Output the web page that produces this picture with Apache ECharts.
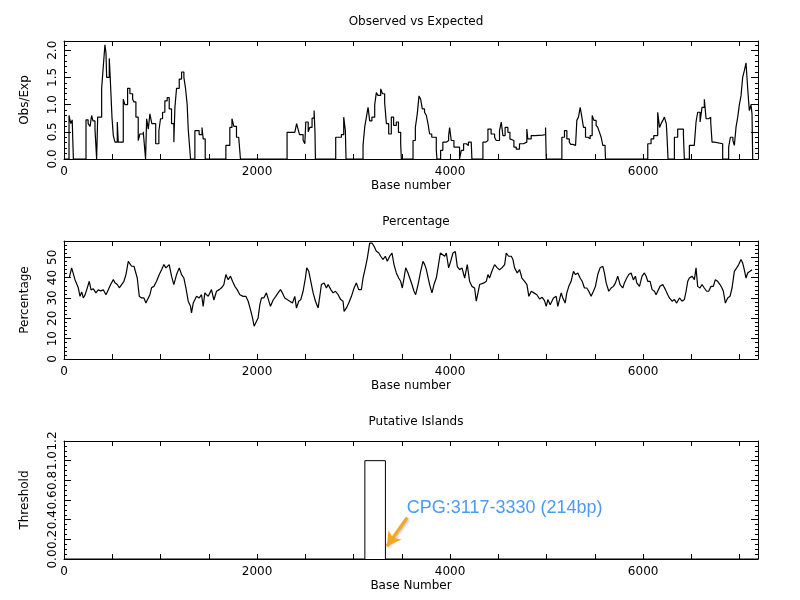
<!DOCTYPE html>
<html>
<head>
<meta charset="utf-8">
<script src="https://cdn.jsdelivr.net/npm/echarts@6/dist/echarts.min.js"></script>
<style>
  html, body { margin: 0; padding: 0; background: #fff; }
  #chart { width: 800px; height: 600px; }
</style>
</head>
<body>
<div id="chart"></div>
<script>
// x extent of the sequence
var seqMax = 7190;

// Observed vs Expected (step line, value held until next base)
var oeBase = [0,52,70,85,97,228,250,270,286,300,321,338,349,390,407,424,435,442,469,480,497,511,528,552,562,614,631,659,683,711,724,745,769,786,821,838,845,856,873,890,910,950,983,1000,1021,1045,1069,1090,1114,1138,1149,1166,1194,1218,1242,1259,1276,1287,1304,1311,1356,1400,1430,1442,1463,1677,1718,1740,1760,1787,1810,1828,2311,2391,2410,2425,2440,2477,2495,2505,2530,2546,2570,2591,2600,2605,2815,2874,2898,2915,2922,3098,3115,3133,3150,3167,3190,3219,3236,3253,3281,3300,3322,3340,3364,3391,3415,3443,3465,3488,3495,3616,3640,3660,3678,3695,3712,3735,3754,3771,3788,3810,3857,3864,3902,3925,3961,3985,3995,4012,4040,4098,4116,4140,4168,4190,4219,4226,4340,4370,4392,4425,4461,4478,4512,4530,4547,4570,4599,4620,4640,4661,4685,4719,4760,4780,4795,4805,4840,4875,4960,4989,4996,5158,5185,5210,5235,5248,5271,5300,5313,5330,5348,5365,5382,5403,5430,5451,5472,5490,5513,5530,5548,5565,5582,5606,5610,6048,6082,6110,6151,6170,6186,6204,6220,6240,6248,6258,6324,6358,6393,6417,6427,6479,6530,6548,6565,6590,6610,6634,6652,6679,6700,6714,6738,6824,6886,6904,6930,6945,6962,6980,6997,7014,7031,7048,7066,7083,7100,7117,7128,7135];
var oeValue = [0,0.8,0.65,0.72,0,0.72,0.65,0.6,0.8,0.7,0.55,0,0.77,1.3,1.7,2.1,1.95,1.5,1.85,1.45,0.77,0.43,0.31,0.68,0.31,1.1,1.0,1.3,1.2,1.1,1.05,0.77,0.34,0.46,0.5,0.52,0,0.74,0.55,0.83,0.65,0.28,0.52,0.74,0.86,1.07,1.13,0.92,0.65,0.31,0.95,1.3,1.47,1.6,1.5,1.3,1.0,0.55,0.52,0,0.52,0.45,0.58,0.37,0,0.25,0.58,0.74,0.6,0.4,0.42,0,0.49,0.46,0.65,0.55,0.45,0.35,0.28,0.68,0.5,0.58,0.75,0.89,0.5,0,0.4,0.45,0.77,0.52,0,0.25,0.58,0.77,0.95,0.7,0.77,1.0,1.22,1.17,1.29,1.2,1.04,0.65,0.46,0.77,0.62,0.68,0.49,0.28,0,0.34,0.58,0.83,1.16,1.1,0.92,0.86,0.8,0.65,0.46,0.4,0.16,0,0.16,0.31,0.34,0.43,0.58,0.34,0.22,0,0.16,0.28,0.25,0.31,0.34,0,0.31,0.34,0.55,0.46,0.4,0.34,0.52,0.68,0.43,0.58,0.49,0.37,0.34,0.22,0.18,0.28,0.25,0.31,0.55,0.37,0.43,0.44,0.45,0.58,0,0.4,0.52,0.37,0.31,0.27,0.25,0.28,0.71,0.77,0.95,0.77,0.58,0.4,0.37,0.43,0.8,0.71,0.62,0.58,0.49,0.4,0.25,0.19,0,0.28,0.37,0.43,0.86,0.58,0.65,0.71,0.77,0.65,0.4,0,0.4,0.55,0.55,0.46,0,0.25,0.28,0.68,0.86,0.68,0.95,1.1,0.74,0.77,0.68,0.31,0.28,0,0.22,0.4,0.34,0.25,0.58,0.77,1.0,1.16,1.5,1.62,1.77,1.3,0.89,1.0,0.83,0];

// Percentage
var pctBase = [55,62,79,95,114,130,148,166,183,200,218,235,262,280,304,331,355,380,407,435,459,483,511,528,552,573,597,621,642,666,683,700,725,745,759,780,804,828,849,863,890,907,931,959,987,1011,1035,1056,1069,1090,1114,1138,1166,1194,1207,1218,1242,1263,1287,1311,1321,1339,1356,1373,1401,1425,1442,1459,1494,1528,1553,1580,1608,1632,1656,1677,1701,1725,1746,1770,1794,1822,1856,1884,1908,1932,1953,1970,1987,2011,2029,2046,2070,2097,2115,2139,2167,2194,2218,2243,2263,2287,2312,2339,2367,2391,2408,2432,2453,2477,2501,2515,2536,2557,2581,2605,2633,2650,2667,2695,2719,2736,2764,2788,2812,2840,2867,2891,2902,2926,2950,2978,3005,3029,3053,3081,3098,3122,3143,3167,3191,3212,3236,3260,3281,3305,3329,3350,3374,3398,3419,3443,3467,3488,3505,3523,3540,3564,3581,3605,3626,3643,3668,3695,3719,3737,3754,3771,3788,3812,3833,3857,3875,3899,3919,3944,3961,3985,4006,4030,4054,4075,4099,4123,4151,4178,4202,4226,4254,4271,4289,4306,4323,4351,4375,4392,4409,4433,4461,4489,4513,4537,4565,4582,4606,4634,4651,4668,4696,4720,4744,4772,4796,4816,4841,4868,4899,4927,4954,4978,4996,5013,5037,5054,5071,5099,5116,5134,5151,5168,5192,5209,5230,5254,5278,5299,5323,5347,5368,5392,5416,5437,5461,5485,5506,5530,5554,5582,5599,5617,5644,5668,5692,5713,5737,5761,5789,5806,5830,5851,5875,5899,5920,5934,5962,5989,6013,6031,6048,6072,6093,6117,6134,6151,6175,6203,6231,6255,6272,6300,6324,6348,6376,6403,6427,6445,6462,6479,6507,6531,6548,6565,6589,6610,6634,6658,6679,6703,6727,6748,6772,6796,6817,6831,6852,6876,6900,6921,6945,6969,6990,7014,7031,7048,7066,7083,7107,7128];
var pctValue = [40,40.7,44.8,44.5,39,39,35,30.8,33,30,31.5,34,38.2,34,34.5,32.5,34,33.5,34,31.6,34,36.6,39,37.5,36.6,35,36.6,38.2,41.5,48,48.9,45.6,45.6,44.8,39.8,30.8,30,30,27.5,29,31.6,35,35.7,38.2,41.5,43.9,46.4,44.8,45.6,46.4,40.7,36.6,41.5,44.8,45.6,41.5,39.8,35,28.4,25.9,22.6,27.5,26.7,30.8,30,31.6,25.9,32.5,30.8,34.1,29,33.3,34.1,35,36.6,41.5,39,40.7,38.2,35.7,34.1,31.6,30.8,30.8,28.4,24.3,20.2,16.1,17.8,20.2,26.7,30,30,32.5,31.6,25.9,29,30.8,32.5,34.1,32.5,30,29.2,28.4,27.5,30.8,25.1,28.4,29.2,33.3,39.8,44.8,43.1,38.2,32.5,28.4,25.1,30.8,36.6,37.4,34.9,36.6,34.1,32.5,33.3,31.6,29.2,28.4,23.4,25.1,27.5,30.8,34.9,37.4,34.1,34.1,39.8,44.8,49.7,57,57,55.4,53,52.2,50.5,48.9,50.5,48,50.5,52.1,46.4,42.3,39.8,38.2,34.9,39.8,44.8,42.3,41.5,36.6,33.3,31.6,36.6,43.1,48,46.4,43.9,43.1,36.6,32.5,36.6,39.8,44.8,52.1,52.1,50.5,52.1,44.8,48,52.1,52.8,45.4,43.9,44.8,39.8,46.4,38.2,35.7,34.9,28.4,32.5,36.6,36.6,37.4,38.2,41.5,39.8,43.1,46.4,44.8,43.9,44.8,46.4,52.1,50.5,50.5,48.9,44.8,42.3,43.9,39.8,38.2,36.6,30.8,33.3,32.5,31.6,29.5,30.3,28.7,25.9,29.2,26.7,25.9,30,30.8,25.9,25.1,32.5,30,27.5,32.5,35.7,38.2,43.1,41.5,42.3,39.8,38.2,34.9,34.9,33.3,30.8,33.3,35.7,41.5,44.8,45.6,42.3,37.4,33.3,34.9,35.7,37.4,40.7,36.6,34.9,37.4,39.8,41.5,42.3,38.9,40.7,37.4,35.7,40.7,42.3,40.7,38.2,38.2,34.1,33.3,31.6,33.3,35.7,36.6,34.1,31.6,30,28.4,29.2,27.5,30,28.4,29.2,33.3,38.2,39.8,40.7,39,44.8,35.7,34.9,36.6,34.9,33.3,33.3,35.7,35.7,39,38.2,36.6,34.9,33.3,27.5,30,30.8,34.9,43.1,44.8,46.4,48.9,47.2,43.9,39.8,42.3,43.1,43.9];

// Putative islands
var islandStart = [3117];
var islandEnd = [3330];
var islandThreshold = [1.0];

// axis ranges / ticks
var oeTicks = [0, 2.17, 0.5];
var pctTicks = [0, 58, 10];
var thrTicks = [0, 1.2, 0.2];

var titles = ['Observed vs Expected', 'Percentage', 'Putative Islands'];
var yNames = ['Obs/Exp', 'Percentage', 'Threshold'];
var xNames = ['Base number', 'Base number', 'Base Number'];

function pairs(xs, ys) {
  return xs.map(function (x, i) { return [x, ys[i]]; });
}

var islandData = [[0, 0]];
islandStart.forEach(function (s, i) {
  islandData.push([s, 0], [s, islandThreshold[i]], [islandEnd[i], islandThreshold[i]], [islandEnd[i], 0]);
});
islandData.push([seqMax, 0]);

var font = 'DejaVu Sans';
var tops = [41, 241, 441];
var ticks = [oeTicks, pctTicks, thrTicks];
var minorSplit = [5, 5, 4];
var labelFmt = [
  function (v) { return v.toFixed(1); },
  function (v) { return String(Math.round(v)); },
  function (v) { return v.toFixed(1); }
];

var grid = [], xAxis = [], yAxis = [], title = [];
for (var g = 0; g < 3; g++) {
  grid.push({ left: 64, right: 42, top: tops[g], height: 118 });
  title.push({
    text: titles[g], left: 411, top: tops[g] - 30, textAlign: 'center',
    textStyle: { fontFamily: font, fontSize: 12, fontWeight: 'normal', color: '#000' }
  });
  xAxis.push({
    gridIndex: g, type: 'value', min: 0, max: seqMax, interval: 500,
    name: xNames[g], nameLocation: 'middle', nameGap: 21,
    nameTextStyle: { fontFamily: font, fontSize: 12, color: '#000' },
    axisLine: { show: true, onZero: false, lineStyle: { color: '#000', width: 1 } },
    axisTick: { show: true, inside: true, length: 5, lineStyle: { color: '#000' } },
    axisLabel: {
      fontFamily: font, fontSize: 12, color: '#000', margin: 7, showMaxLabel: false,
      formatter: function (v) { return v % 2000 === 0 ? String(v) : ''; }
    },
    splitLine: { show: false }
  });
  xAxis.push({
    gridIndex: g, type: 'value', position: 'top', min: 0, max: seqMax, interval: 500,
    axisLine: { show: true, onZero: false, lineStyle: { color: '#000', width: 1 } },
    axisTick: { show: true, inside: true, length: 5, lineStyle: { color: '#000' } },
    axisLabel: { show: false }, splitLine: { show: false }
  });
  var t = ticks[g];
  yAxis.push({
    gridIndex: g, type: 'value', min: t[0], max: t[1], interval: t[2],
    name: yNames[g], nameLocation: 'middle', nameGap: 33,
    nameTextStyle: { fontFamily: font, fontSize: 12, color: '#000' },
    axisLine: { show: true, onZero: false, lineStyle: { color: '#000', width: 1 } },
    axisTick: { show: true, inside: true, length: 7, lineStyle: { color: '#000' } },
    minorTick: { show: true, splitNumber: minorSplit[g], length: 3, lineStyle: { color: '#000' } },
    axisLabel: {
      fontFamily: font, fontSize: 12, color: '#000', rotate: 90, margin: 5,
      showMaxLabel: g === 2, formatter: labelFmt[g]
    },
    splitLine: { show: false }
  });
  yAxis.push({
    gridIndex: g, type: 'value', position: 'right', min: t[0], max: t[1], interval: t[2],
    axisLine: { show: true, onZero: false, lineStyle: { color: '#000', width: 1 } },
    axisTick: { show: true, inside: true, length: 7, lineStyle: { color: '#000' } },
    minorTick: { show: true, splitNumber: minorSplit[g], length: 3, lineStyle: { color: '#000' } },
    axisLabel: { show: false }, splitLine: { show: false }
  });
}

var s0 = islandStart[0], e0 = islandEnd[0];
var annText = 'CPG:' + s0 + '-' + e0 + ' (' + (e0 - s0 + 1) + 'bp)';

var myChart = echarts.init(document.getElementById('chart'), null, { renderer: 'canvas' });
myChart.setOption({
  animation: false,
  backgroundColor: '#fff',
  title: title,
  grid: grid,
  xAxis: xAxis,
  yAxis: yAxis,
  series: [
    {
      type: 'line', xAxisIndex: 0, yAxisIndex: 0, step: 'end', showSymbol: false,
      data: pairs(oeBase, oeValue), lineStyle: { color: '#000', width: 1.2 }
    },
    {
      type: 'line', xAxisIndex: 2, yAxisIndex: 2, showSymbol: false,
      data: pairs(pctBase, pctValue), lineStyle: { color: '#000', width: 1.2 }
    },
    {
      type: 'line', xAxisIndex: 4, yAxisIndex: 4, showSymbol: false,
      data: islandData, lineStyle: { color: '#000', width: 1 },
      markLine: {
        silent: true, symbol: ['none', 'arrow'], symbolSize: [12, 14],
        label: { show: false },
        lineStyle: {
          color: '#f5a623', width: 3, type: 'solid',
          shadowColor: 'rgba(0,0,0,0.3)', shadowBlur: 3, shadowOffsetX: 1, shadowOffsetY: 1
        },
        data: [[{ coord: [3555, 0.42] }, { coord: [3345, 0.13] }]]
      },
      markPoint: {
        silent: true, symbol: 'circle', symbolSize: 0.1,
        itemStyle: { color: 'rgba(0,0,0,0)' },
        label: {
          show: true, position: 'right', distance: 0, formatter: annText,
          color: '#4a9bf5', fontSize: 18, fontFamily: 'Liberation Sans'
        },
        data: [{ coord: [3550, 0.52] }]
      }
    }
  ]
});
</script>
</body>
</html>
